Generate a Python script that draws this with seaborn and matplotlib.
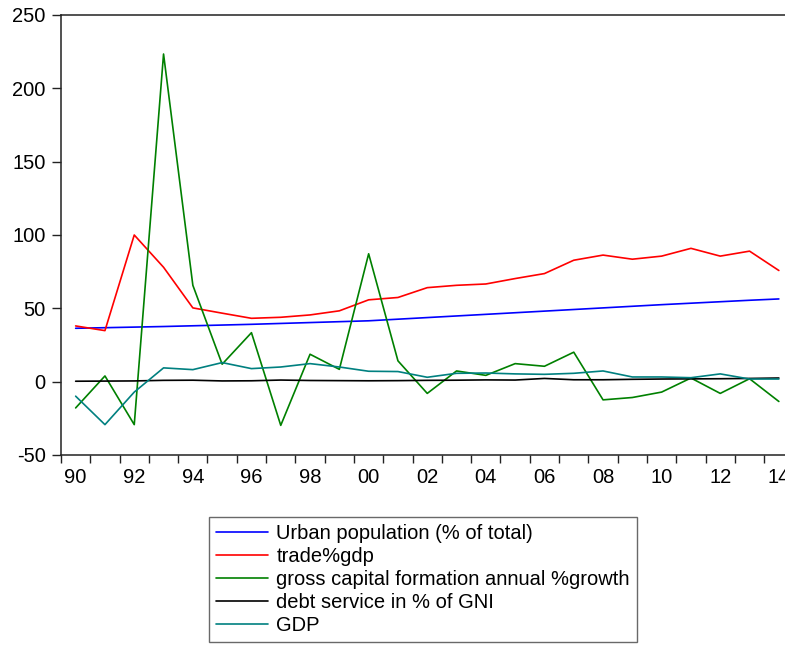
import numpy as np
import pandas as pd
import matplotlib
matplotlib.use('Agg')
import matplotlib.pyplot as plt
from matplotlib.ticker import FixedLocator, NullFormatter
import seaborn as sns

# yearly values (1990-2014)
years = list(range(1990, 2015))
urban = [36.4, 36.8, 37.2, 37.6, 38.1, 38.6, 39.1, 39.7, 40.3, 40.9, 41.5, 42.6, 43.7,
         44.8, 45.9, 47.0, 48.1, 49.2, 50.3, 51.4, 52.5, 53.5, 54.5, 55.5, 56.4]
trade = [38.0, 34.8, 100.0, 78.0, 50.3, 46.7, 43.2, 43.9, 45.5, 48.3, 55.8, 57.4, 64.1,
         65.7, 66.6, 70.3, 73.7, 82.8, 86.3, 83.5, 85.6, 90.9, 85.6, 89.0, 75.8]
gcf_growth = [-17.9, 3.9, -29.3, 223.4, 65.7, 11.9, 33.4, -29.8, 18.7, 8.4, 87.2, 14.2, -8.0,
              7.3, 4.3, 12.3, 10.5, 20.1, -12.4, -10.8, -7.1, 2.5, -8.0, 2.0, -13.5]
debt = [0.3, 0.4, 0.5, 0.9, 1.0, 0.5, 0.6, 1.1, 0.8, 0.7, 0.6, 0.7, 0.9,
        1.0, 1.2, 1.1, 2.2, 1.3, 1.3, 1.6, 1.8, 1.9, 2.0, 2.2, 2.5]
gdp = [-9.9, -29.3, -7.1, 9.4, 8.2, 13.0, 8.9, 10.0, 12.3, 10.0, 7.1, 6.9, 3.0,
       5.7, 5.9, 5.3, 5.0, 5.7, 7.3, 3.2, 3.2, 2.7, 5.3, 1.8, 1.8]

names = ['Urban population (% of total)', 'trade%gdp',
         'gross capital formation annual %growth', 'debt service in % of GNI', 'GDP']
colors = ['#0000FF', '#FF0000', '#008000', '#000000', '#008080']
ytick_vals = [-50, 0, 50, 100, 150, 200, 250]
xtick_labels = ['90', '92', '94', '96', '98', '00', '02', '04', '06', '08', '10', '12', '14']

df = pd.DataFrame({'year': years, names[0]: urban, names[1]: trade, names[2]: gcf_growth,
                   names[3]: debt, names[4]: gdp})
long = df.melt(id_vars='year', var_name='series', value_name='value')
# each year sits in the middle of its interval
long['x'] = long['year'] + 0.5

sns.set_style('white')
plt.rcParams['font.family'] = ['Liberation Sans', 'DejaVu Sans']
plt.rcParams['axes.unicode_minus'] = False
plt.rcParams['text.color'] = 'black'
plt.rcParams['xtick.color'] = 'black'
plt.rcParams['ytick.color'] = 'black'

fig = plt.figure(figsize=(7.85, 6.45), dpi=100)
ax = fig.add_axes([61 / 785, 1 - 455 / 645, (793.5 - 61) / 785, (455 - 15) / 645])

sns.lineplot(data=long, x='x', y='value', hue='series', hue_order=names,
             palette=colors, linewidth=1.2, ax=ax, legend=False)

ax.set_xlim(1990, 2015)
ax.set_ylim(-50, 250)
ax.set_yticks(ytick_vals)
ax.set_xticks(range(1990, 2016))
ax.xaxis.set_major_formatter(NullFormatter())
ax.xaxis.set_minor_locator(FixedLocator([y + 0.5 for y in range(1990, 2015, 2)]))
ax.set_xticklabels(xtick_labels, minor=True)
ax.tick_params(axis='x', which='major', bottom=True, direction='out', length=6, width=1,
               color='#222222')
ax.tick_params(axis='x', which='minor', bottom=True, length=0, pad=9.5, labelsize=14.5)
ax.tick_params(axis='y', left=True, direction='out', length=6.5, width=1, color='#222222',
               pad=4.5, labelsize=14.5)
ax.set_xlabel('')
ax.set_ylabel('')
for s in ax.spines.values():
    s.set_color('#222222')
    s.set_linewidth(1.1)

handles = [plt.Line2D([], [], color=c, lw=1.2) for c in colors]
leg = fig.legend(handles, names, loc='upper left', bbox_to_anchor=(209 / 785, 1 - 517 / 645),
                 frameon=True, fancybox=False, fontsize=14.5, handlelength=2.6,
                 handletextpad=0.4, labelspacing=0.2, borderpad=0.34, borderaxespad=0)
leg.get_frame().set_edgecolor('#444444')
leg.get_frame().set_linewidth(1.0)

fig.savefig('out.png', dpi=100)
